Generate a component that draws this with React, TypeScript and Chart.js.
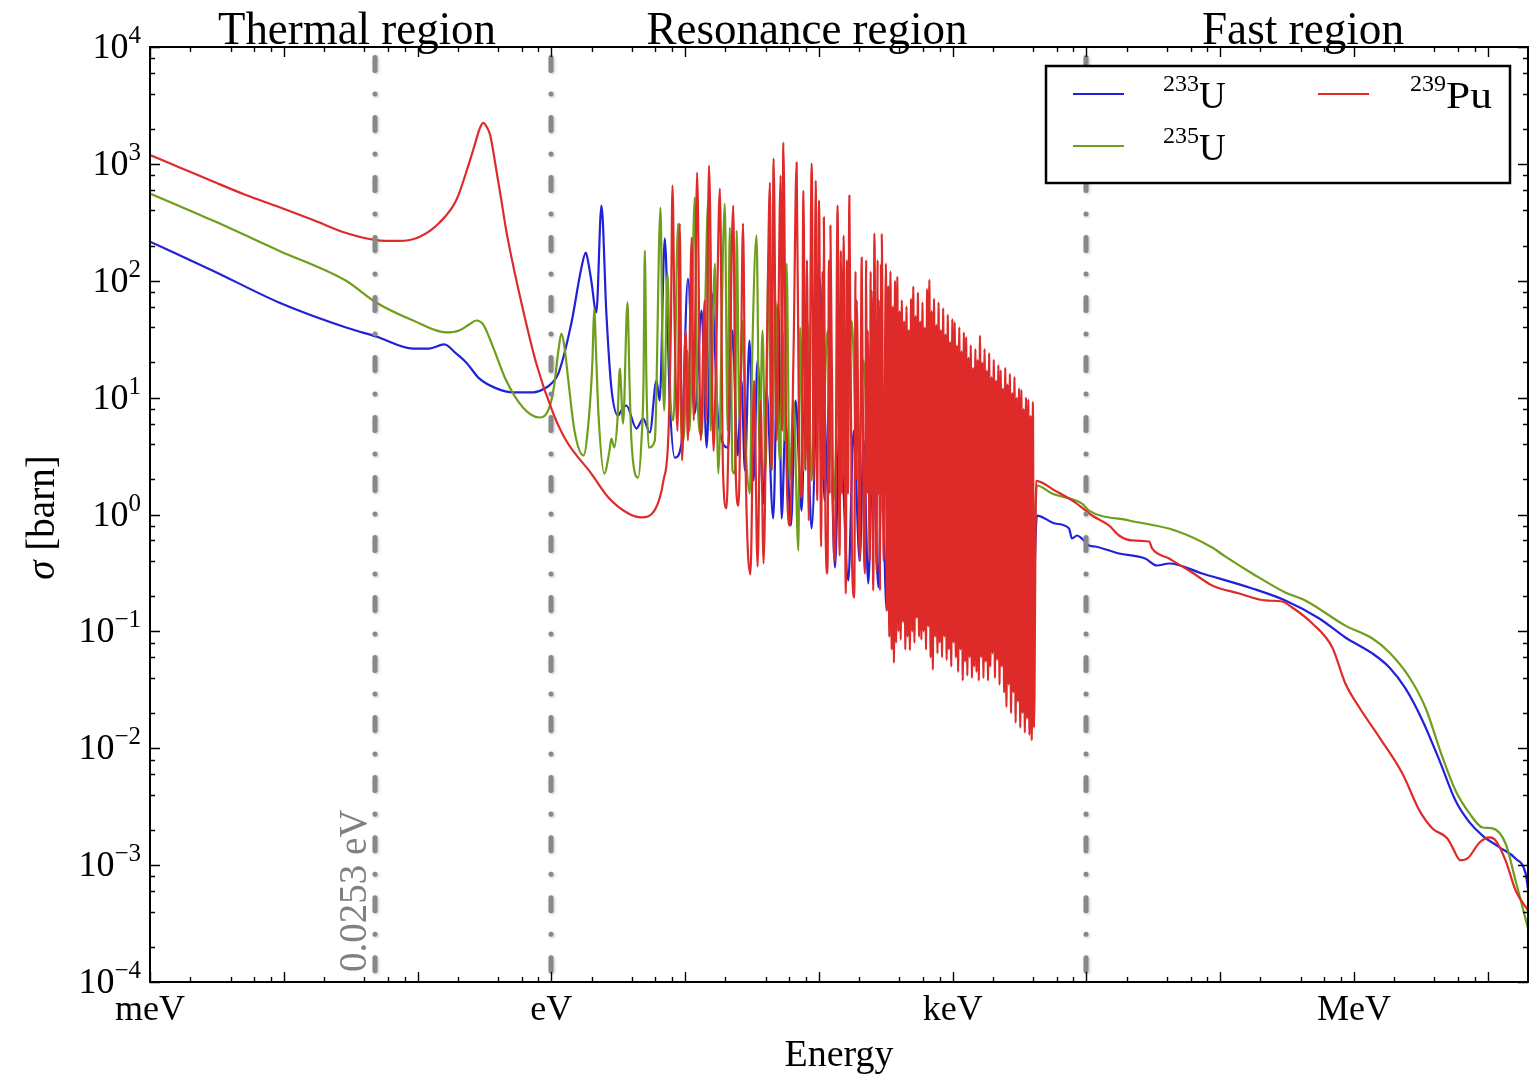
import { useEffect, useRef } from 'react';
import { Chart, registerables } from 'chart.js';

Chart.register(...registerables);

const FONT = '"Liberation Serif", "Times New Roman", serif';

// ---------- axis ranges & tick labels ----------
const E_MIN = 1e-3;
const E_MAX = 2e7;
const S_MIN = 1e-4;
const S_MAX = 1e4;
const xTickValues = [1e-3, 1, 1e3, 1e6];
const xTickLabels = ['meV', 'eV', 'keV', 'MeV'];
const yTickExponents = [4, 3, 2, 1, 0, -1, -2, -3, -4];
const minorMultipliers = [2, 4, 6, 8];

// ---------- annotation values ----------
const markerEnergies = [0.0481, 1, 1e4];
const markerLabel = '0.0253 eV';
const regionTitles = ['Thermal region', 'Resonance region', 'Fast region'];
const xAxisTitle = 'Energy';
const yAxisSymbol = 'σ';
const yAxisUnit = ' [barn]';

// ---------- legend ----------
const isotopeMass = ['233', '235', '239'];
const isotopeSymbol = ['U', 'U', 'Pu'];
const isotopeColor = ['#2121d9', '#6f9e1c', '#df2a2a'];

// ---------- 233U (energy eV, sigma barn) ----------
const u233Low = [
  [0.001, 216], [0.00295, 122], [0.0092, 65.2], [0.0292, 39.8], [0.049, 33.3], [0.0927, 26.3],
  [0.122, 26.3], [0.158, 28.5], [0.195, 23.8], [0.231, 20], [0.289, 14.6], [0.388, 12.0],
  [0.52, 11.1], [0.733, 11.1], [0.918, 12.2], [1.0, 13.2], [1.13, 16.1], [1.41, 43],
  [1.68, 130], [1.81, 174], [1.89, 143], [1.99, 100], [2.17, 53.5], [2.37, 440], [2.58, 52.4],
  [2.81, 12.2], [3.16, 7.03], [3.34, 7.76], [3.64, 8.56], [4.33, 5.44], [4.86, 6.62], [5.45, 5.03],
  [6.11, 14], [6.46, 9.44], [7.05, 230], [7.68, 9.44], [8.37, 3.07], [9.4, 4.05], [10.5, 104],
  [11.8, 7.31], [13.3, 55.6], [14.5, 3.74], [15.8, 79.3], [17.7, 6.37], [21.0, 3.74], [22.6, 37.5],
  [24.7, 3.2], [26.4, 14], [28.0, 2.38], [30.3, 30.8], [32.5, 1.95], [34.8, 20.8], [38.5, 1.24],
  [40.6, 11.5], [45.6, 0.924], [49.8, 63.8], [52.7, 0.924], [56.4, 6.37], [61.8, 0.805], [67.0, 9.44],
  [74.3, 1.08], [79.6, 14], [88.3, 0.759], [102, 106], [110, 1.32], [120, 9.44], [132, 0.352],
  [143, 6.37], [166, 0.272], [182, 5.2], [202, 0.40], [216, 4.3], [234, 0.257], [253, 3.5],
  [279, 0.238], [295, 2.9], [321, 0.151], [350, 2.38], [382, 0.3], [416, 0.184], [454, 1.95],
  [512, 0.224], [568, 2.38], [641, 0.184], [723, 1.95], [830, 0.151], [937, 1.6], [1075, 0.124],
  [1213, 1.32], [1393, 0.102], [1572, 1.19], [1804, 0.124], [2033, 1.08], [2334, 0.0836],
  [2680, 0.98], [3027, 0.0687], [3414, 0.89], [3920, 0.0836],
];
const u233Fast = [
  [4266, 0.98], [5821, 0.838], [7413, 0.759], [7800, 0.623], [8511, 0.661], [9270, 0.623],
  [10450, 0.543], [11590, 0.532], [17540, 0.464], [27480, 0.42], [33730, 0.366], [41520, 0.381],
  [73280, 0.313], [173700, 0.233], [306900, 0.184], [550800, 0.129], [862600, 0.0887],
  [1.374e6, 0.0647], [1.841e6, 0.0491], [2.427e6, 0.0325], [3.251e6, 0.0173], [4.355e6, 0.00787],
  [5.74e6, 0.00357], [7.31e6, 0.00232], [9.14e6, 0.00179], [1.225e7, 0.00142], [1.614e7, 0.00114],
  [1.919e7, 0.00085], [2.0e7, 0.00063],
];

// ---------- 235U ----------
const u235Low = [
  [0.001, 557], [0.00295, 327], [0.0092, 181], [0.0292, 100], [0.049, 65.2], [0.0927, 45.7],
  [0.164, 36.1], [0.205, 37.5], [0.243, 42.2], [0.275, 45.7], [0.31, 42.2], [0.368, 26.8],
  [0.46, 14.0], [0.616, 8.2], [0.813, 6.76], [0.966, 8.2], [1.05, 12.7], [1.13, 25.3], [1.19, 35.3],
  [1.25, 27.9], [1.34, 14.0], [1.49, 5.2], [1.74, 3.2], [1.92, 7.3], [2.03, 20.8], [2.09, 57.8],
  [2.17, 20.8], [2.25, 7.3], [2.49, 2.24], [2.72, 3.5], [2.81, 4.47], [2.96, 3.74], [3.12, 6.4],
  [3.25, 17.7], [3.44, 6.0], [3.71, 65.2], [3.84, 14.0], [3.97, 4.3], [4.46, 2.07], [4.72, 4.3],
  [4.89, 14], [5.0, 181], [5.14, 14], [5.35, 3.74], [5.94, 4.3], [6.55, 423], [6.78, 25.3],
  [6.98, 7.76], [7.38, 117], [7.78, 9.4], [8.19, 6.4], [8.87, 309], [9.25, 9.4], [9.73, 4.3],
  [10.4, 25.3], [10.8, 5.2], [11.8, 515], [12.4, 9.4], [13.3, 4.74], [14.0, 37.5], [14.9, 485],
  [15.5, 5.2], [16.7, 140], [17.7, 2.24], [19.8, 457], [20.8, 5.2], [21.6, 285], [22.6, 2.38],
  [23.6, 2.24], [24.3, 269], [25.5, 6.4], [26.9, 45.7], [28.3, 4.3], [30.5, 1.51], [31.7, 20.8],
  [34.2, 244], [36.0, 3.5], [37.9, 37.5], [40.0, 2.38], [42.1, 171], [44.3, 2.38], [47.5, 67.7],
  [50.9, 2.9], [53.6, 37.5], [55.5, 4.3], [57.4, 140], [60.4, 1.95], [64.7, 9.44], [70.3, 0.492],
  [72.3, 39.8], [76.9, 2.38], [82.4, 45.7], [88.3, 1.95], [96.3, 67.7], [105, 2.38], [116, 37.5],
  [129, 1.32], [143, 25.3], [159, 1.6], [176, 45.7], [195, 1.95], [216, 20.8], [240, 1.32],
  [266, 17.1], [295, 1.08], [327, 14], [369, 0.889], [417, 29], [470, 0.73], [540, 11.5],
  [608, 0.889], [698, 9.44], [802, 0.6], [920, 7.76], [1057, 0.6], [1213, 6.37], [1393, 0.492],
  [1600, 5.2], [1834, 0.543], [2104, 4.3], [2415, 0.40], [2773, 4.3], [3184, 0.40], [3656, 3.5],
  [4055, 0.6],
];
const u235Fast = [
  [4266, 1.77], [5530, 1.51], [9270, 1.24], [10450, 1.08], [20840, 0.889], [46030, 0.73],
  [87100, 0.522], [108900, 0.438], [173700, 0.313], [306900, 0.215], [432700, 0.184],
  [862600, 0.112], [1.374e6, 0.0869], [1.841e6, 0.066], [2.6e6, 0.0403], [3.42e6, 0.0223],
  [4.59e6, 0.00834], [5.74e6, 0.00435], [7.31e6, 0.00277], [9.14e6, 0.0021], [1.087e7, 0.00206],
  [1.359e7, 0.00153], [1.614e7, 0.00074], [1.823e7, 0.000434], [2.0e7, 0.000288],
];

// ---------- 239Pu ----------
const pu239Thermal = [
  [0.001, 1190], [0.0017, 923], [0.0029, 714], [0.0052, 542], [0.0092, 428], [0.0166, 331],
  [0.0292, 256], [0.049, 223], [0.0728, 219], [0.103, 237], [0.145, 312], [0.195, 490],
  [0.243, 1016], [0.27, 1507], [0.289, 1950], [0.31, 2240], [0.332, 2030], [0.349, 1770],
  [0.388, 887], [0.423, 490], [0.46, 270], [0.576, 78], [0.772, 19.6], [1.035, 7.3], [1.29, 4.3],
  [1.99, 2.24], [2.67, 1.40], [3.77, 1.02], [4.72, 0.944], [5.9, 1.08], [6.89, 1.95], [7.51, 4.93],
];
const pu239Resolved = [
  [7.84, 45.6], [8.05, 652], [8.34, 45], [8.78, 5.2], [9.12, 309], [9.48, 2.9], [10.1, 37.5],
  [10.5, 4.3], [11.2, 234], [11.6, 6.4], [12.3, 843], [13.1, 4.3], [14.0, 68], [14.3, 6.4],
  [15.1, 967], [16.3, 3.5], [17.2, 37.5], [18.2, 615], [19.2, 2.38], [20.4, 1.13], [21.5, 14],
  [22.9, 440], [24.0, 1.95], [25.1, 1.19], [26.0, 9.4], [27.1, 309], [28.3, 2.9], [30.8, 0.307],
  [32.8, 14], [34.8, 0.359], [36.7, 9.4], [38.6, 0.381], [41.0, 30.8], [43.1, 692], [44.3, 2.38],
  [45.9, 1110], [48.3, 4.3], [51.8, 794], [53.1, 5.2], [54.2, 1520], [57.4, 2.38], [60.8, 0.805],
  [64.7, 25.3], [68.2, 1026], [71.2, 3.5], [74.4, 1.40], [76.6, 592], [79.6, 2.38], [81.5, 150],
  [83.9, 0.89], [88.4, 1005], [91.5, 1.95], [94.7, 719], [97.2, 1.32], [100.3, 485], [104, 0.532],
  [106.5, 120], [107.8, 2], [109, 349], [112, 0.89], [116, 0.313], [119, 150], [120.5, 1.5],
  [122, 296], [128, 0.89], [132, 0.40], [138, 440], [143, 0.446], [146, 180], [149, 1.5],
  [153, 243], [159, 0.211], [162, 150], [165, 1.5], [169, 536], [177, 0.40], [184, 0.195],
  [188, 120], [190, 2], [192, 68], [202, 0.40], [209, 158], [216, 0.89], [221, 0.313], [226, 150],
  [229, 1.5], [232, 37.5], [240, 0.40], [244, 120], [246, 1.5], [248, 82], [255, 0.224], [260, 253],
  [270, 0.332], [275, 150], [277.5, 1.5], [280, 68], [287, 0.224], [291, 140], [293, 1.5],
  [295, 253], [305, 0.40],
];
const pu239DenseE = [
  317, 323, 330, 336, 343, 350, 357, 364, 371, 378, 386, 394, 401, 409, 417, 426, 434, 443, 452, 461,
  470, 479, 489, 499, 508, 518, 529, 539, 550, 561, 572, 584, 595, 607, 619, 632, 644, 657, 670, 684,
  697, 711, 726, 740, 755, 770, 785, 801, 817, 833, 850, 867, 884, 902, 920, 938, 957, 976, 995, 1015,
  1036, 1056, 1077, 1099, 1121, 1143, 1166, 1190, 1213, 1238, 1262, 1288, 1313, 1340, 1366, 1394,
  1421, 1450, 1479, 1508, 1539, 1569, 1601, 1633, 1665, 1699, 1733, 1767, 1803, 1839, 1875, 1913,
  1951, 1990, 2030, 2071, 2112, 2154, 2197, 2241, 2286, 2332, 2378, 2426, 2474, 2524, 2574, 2626,
  2678, 2732, 2787, 2842, 2899, 2957, 3016, 3077, 3138, 3201, 3265, 3330, 3397, 3465, 3534, 3605,
  3677, 3750, 3825, 3902, 3980, 4060,
];
const pu239DenseS = [
  140, 0.15, 90, 0.09, 120, 0.07, 60, 0.054, 100, 0.08,
  108, 0.1, 55, 0.085, 68, 0.12, 45, 0.07, 60, 0.09,
  38, 0.069, 70, 0.1, 89, 0.08, 50, 0.13, 79, 0.09,
  45, 0.085, 65, 0.1, 40, 0.07, 85, 0.11, 102, 0.06,
  55, 0.047, 70, 0.09, 42, 0.065, 65, 0.08, 38, 0.06,
  58, 0.09, 35, 0.057, 51, 0.07, 30, 0.05, 47, 0.08,
  44, 0.06, 28, 0.045, 40, 0.07, 25, 0.038, 36, 0.055,
  33, 0.042, 22, 0.06, 28, 0.04, 18, 0.05, 26, 0.045,
  21, 0.038, 34, 0.06, 20, 0.04, 26, 0.055, 17, 0.038,
  24, 0.05, 15, 0.065, 21, 0.04, 14, 0.057, 19, 0.035,
  17, 0.05, 12, 0.03, 18, 0.0226, 13, 0.035, 16, 0.02,
  11, 0.03, 15, 0.0166, 10, 0.025, 12, 0.015, 11.6, 0.02,
  8, 0.0136, 10, 0.018, 9.6, 0.013, 7, 0.0117, 9.2, 0.015,
];
const pu239Fast = [
  [4204, 1.94], [5821, 1.60], [8222, 1.27], [11020, 0.98], [14760, 0.805], [17540, 0.661],
  [21940, 0.6], [29420, 0.587], [30980, 0.512], [41520, 0.42], [61700, 0.319], [87100, 0.247],
  [138700, 0.211], [217300, 0.184], [291000, 0.18], [345900, 0.16], [488600, 0.117],
  [688700, 0.0728], [862600, 0.0358], [1.097e6, 0.0223], [1.549e6, 0.0124], [2.303e6, 0.00608],
  [3.083e6, 0.00294], [3.862e6, 0.00206], [5.0e6, 0.00169], [5.45e6, 0.00142], [6.25e6, 0.0011],
  [7.06e6, 0.00114], [8.69e6, 0.00156], [1.03e7, 0.00173], [1.143e7, 0.00163], [1.359e7, 0.0011],
  [1.614e7, 0.00061], [2.0e7, 0.00041],
];

const pts = (list: number[][]) => list.map(([x, y]) => ({ x, y }));
const zipPts = (es: number[], ss: number[]) => es.map((e, i) => ({ x: e, y: ss[i] }));

const supText = (n: number) => (n < 0 ? '\u2212' + String(-n) : String(n));

const decorations = {
  id: 'decorations',
  afterDatasetsDraw(chart: any) {
    const { ctx, chartArea: ca, scales } = chart;
    const xs = scales.x;
    const ys = scales.y;
    ctx.save();

    // vertical dash-dot markers
    ctx.save();
    ctx.strokeStyle = '#888888';
    ctx.lineWidth = 5;
    ctx.lineCap = 'round';
    ctx.shadowColor = 'rgba(90,90,90,0.35)';
    ctx.shadowBlur = 3;
    ctx.shadowOffsetX = 1;
    ctx.shadowOffsetY = 1;
    ctx.setLineDash([13, 23.5, 0.01, 23.5]);
    for (const e of markerEnergies) {
      const px = Math.round(xs.getPixelForValue(e));
      ctx.beginPath();
      ctx.moveTo(px, ca.top + 10.5);
      ctx.lineTo(px, ca.bottom - 1);
      ctx.stroke();
    }
    ctx.restore();

    // marker label (rotated)
    ctx.save();
    const mx = xs.getPixelForValue(markerEnergies[0]);
    ctx.translate(mx - 9, ca.bottom - 10);
    ctx.rotate(-Math.PI / 2);
    ctx.font = `39px ${FONT}`;
    ctx.fillStyle = '#808080';
    ctx.textAlign = 'left';
    ctx.textBaseline = 'alphabetic';
    ctx.fillText(markerLabel, 0, 0);
    ctx.restore();

    // frame
    ctx.strokeStyle = '#000';
    ctx.lineWidth = 2;
    ctx.strokeRect(ca.left, ca.top, ca.right - ca.left, ca.bottom - ca.top);

    // ticks
    ctx.lineWidth = 1.4;
    ctx.beginPath();
    for (let d = -3; d <= 7; d++) {
      for (const m of [1, ...minorMultipliers]) {
        const v = m * Math.pow(10, d);
        if (v < E_MIN * 0.999 || v > E_MAX * 0.999) continue;
        const px = Math.round(xs.getPixelForValue(v)) + 0.5;
        const len = m === 1 ? 10 : 5;
        ctx.moveTo(px, ca.bottom);
        ctx.lineTo(px, ca.bottom - len);
        ctx.moveTo(px, ca.top);
        ctx.lineTo(px, ca.top + len);
      }
    }
    for (let d = -4; d <= 4; d++) {
      for (const m of [1, ...minorMultipliers]) {
        const v = m * Math.pow(10, d);
        if (v < S_MIN * 0.999 || v > S_MAX * 1.001) continue;
        const py = Math.round(ys.getPixelForValue(v)) + 0.5;
        const len = m === 1 ? 10 : 5;
        ctx.moveTo(ca.left, py);
        ctx.lineTo(ca.left + len, py);
        ctx.moveTo(ca.right, py);
        ctx.lineTo(ca.right - len, py);
      }
    }
    ctx.stroke();

    // x tick labels
    ctx.fillStyle = '#000';
    ctx.font = `36px ${FONT}`;
    ctx.textAlign = 'center';
    ctx.textBaseline = 'alphabetic';
    xTickValues.forEach((v, i) => {
      ctx.fillText(xTickLabels[i], xs.getPixelForValue(v), ca.bottom + 38);
    });

    // y tick labels 10^n
    ctx.textAlign = 'left';
    const rightEdge = ca.left - 9;
    for (const e of yTickExponents) {
      const py = ys.getPixelForValue(Math.pow(10, e));
      const sup = supText(e);
      ctx.font = `25px ${FONT}`;
      const ws = ctx.measureText(sup).width;
      ctx.font = `36px ${FONT}`;
      const wb = ctx.measureText('10').width;
      ctx.fillText('10', rightEdge - ws - wb, py + 11);
      ctx.font = `25px ${FONT}`;
      ctx.fillText(sup, rightEdge - ws, py - 4);
    }

    // axis titles
    ctx.font = `38px ${FONT}`;
    ctx.textAlign = 'center';
    ctx.fillText(xAxisTitle, (ca.left + ca.right) / 2, ca.bottom + 84);

    ctx.save();
    ctx.translate(54, (ca.top + ca.bottom) / 2 + 3);
    ctx.rotate(-Math.PI / 2);
    ctx.textAlign = 'left';
    ctx.font = `italic 39px ${FONT}`;
    const wSym = ctx.measureText(yAxisSymbol).width;
    ctx.font = `39px ${FONT}`;
    const wUnit = ctx.measureText(yAxisUnit).width;
    const start = -(wSym + wUnit) / 2;
    ctx.font = `italic 39px ${FONT}`;
    ctx.fillText(yAxisSymbol, start, 0);
    ctx.font = `39px ${FONT}`;
    ctx.fillText(yAxisUnit, start + wSym, 0);
    ctx.restore();

    // region titles above plot
    const titleCenters = [357, 807, 1303];
    const titleWidths = [278, 321, 202];
    ctx.font = `46px ${FONT}`;
    ctx.textAlign = 'left';
    regionTitles.forEach((t, i) => {
      const w = ctx.measureText(t).width;
      ctx.save();
      ctx.translate(titleCenters[i] - titleWidths[i] / 2, ca.top - 3);
      ctx.scale(titleWidths[i] / w, 1);
      ctx.fillText(t, 0, 0);
      ctx.restore();
    });

    // legend
    const lx = 1046, ly = 66, lw = 464, lh = 117;
    ctx.fillStyle = '#fff';
    ctx.fillRect(lx, ly, lw, lh);
    ctx.strokeStyle = '#000';
    ctx.lineWidth = 2.5;
    ctx.strokeRect(lx, ly, lw, lh);
    const slots = [
      { i: 0, col: 0, row: 0 },
      { i: 2, col: 1, row: 0 },
      { i: 1, col: 0, row: 1 },
    ];
    for (const s of slots) {
      const x0 = s.col === 0 ? 1073 : 1318;
      const tx = s.col === 0 ? 1163 : 1410;
      const yLine = s.row === 0 ? 94 : 146;
      const base = s.row === 0 ? 108 : 160;
      ctx.strokeStyle = isotopeColor[s.i];
      ctx.lineWidth = 2;
      ctx.beginPath();
      ctx.moveTo(x0, yLine);
      ctx.lineTo(x0 + 51, yLine);
      ctx.stroke();
      ctx.fillStyle = '#000';
      ctx.textAlign = 'left';
      ctx.font = `24px ${FONT}`;
      const wm = ctx.measureText(isotopeMass[s.i]).width;
      ctx.fillText(isotopeMass[s.i], tx, base - 17);
      ctx.font = `37px ${FONT}`;
      const sym = isotopeSymbol[s.i];
      const wsym = ctx.measureText(sym).width;
      const targetW = sym.length > 1 ? 46 : wsym;
      ctx.save();
      ctx.translate(tx + wm, base);
      ctx.scale(targetW / wsym, 1);
      ctx.fillText(sym, 0, 0);
      ctx.restore();
    }

    ctx.restore();
  },
};

export default function App() {
  const ref = useRef<HTMLCanvasElement | null>(null);

  useEffect(() => {
    if (!ref.current) return;
    const common = {
      borderWidth: 2.2,
      pointRadius: 0,
      pointHoverRadius: 0,
      cubicInterpolationMode: 'monotone' as const,
      fill: false,
      borderJoinStyle: 'round' as const,
      borderCapStyle: 'round' as const,
    };
    const chart = new Chart(ref.current, {
      type: 'line',
      data: {
        datasets: [
          {
            ...common,
            label: isotopeMass[2] + isotopeSymbol[2],
            borderColor: isotopeColor[2],
            data: [
              ...pts(pu239Thermal),
              ...pts(pu239Resolved),
              ...zipPts(pu239DenseE, pu239DenseS),
              ...pts(pu239Fast),
            ],
          },
          {
            ...common,
            label: isotopeMass[1] + isotopeSymbol[1],
            borderColor: isotopeColor[1],
            data: [...pts(u235Low), ...pts(u235Fast)],
          },
          {
            ...common,
            label: isotopeMass[0] + isotopeSymbol[0],
            borderColor: isotopeColor[0],
            data: [...pts(u233Low), ...pts(u233Fast)],
          },
        ],
      },
      options: {
        animation: false,
        responsive: false,
        devicePixelRatio: 1,
        parsing: false,
        normalized: true,
        events: [],
        layout: { padding: { left: 150, top: 47, right: 10, bottom: 99 } },
        plugins: {
          legend: { display: false },
          tooltip: { enabled: false },
          title: { display: false },
        },
        scales: {
          x: { type: 'logarithmic', min: E_MIN, max: E_MAX, display: false },
          y: { type: 'logarithmic', min: S_MIN, max: S_MAX, display: false },
        },
      },
      plugins: [decorations],
    } as any);
    return () => chart.destroy();
  }, []);

  return (
    <div style={{ position: 'fixed', left: 0, top: 0, width: 1538, height: 1081, background: '#fff' }}>
      <canvas ref={ref} width={1538} height={1081} style={{ display: 'block' }} />
    </div>
  );
}
